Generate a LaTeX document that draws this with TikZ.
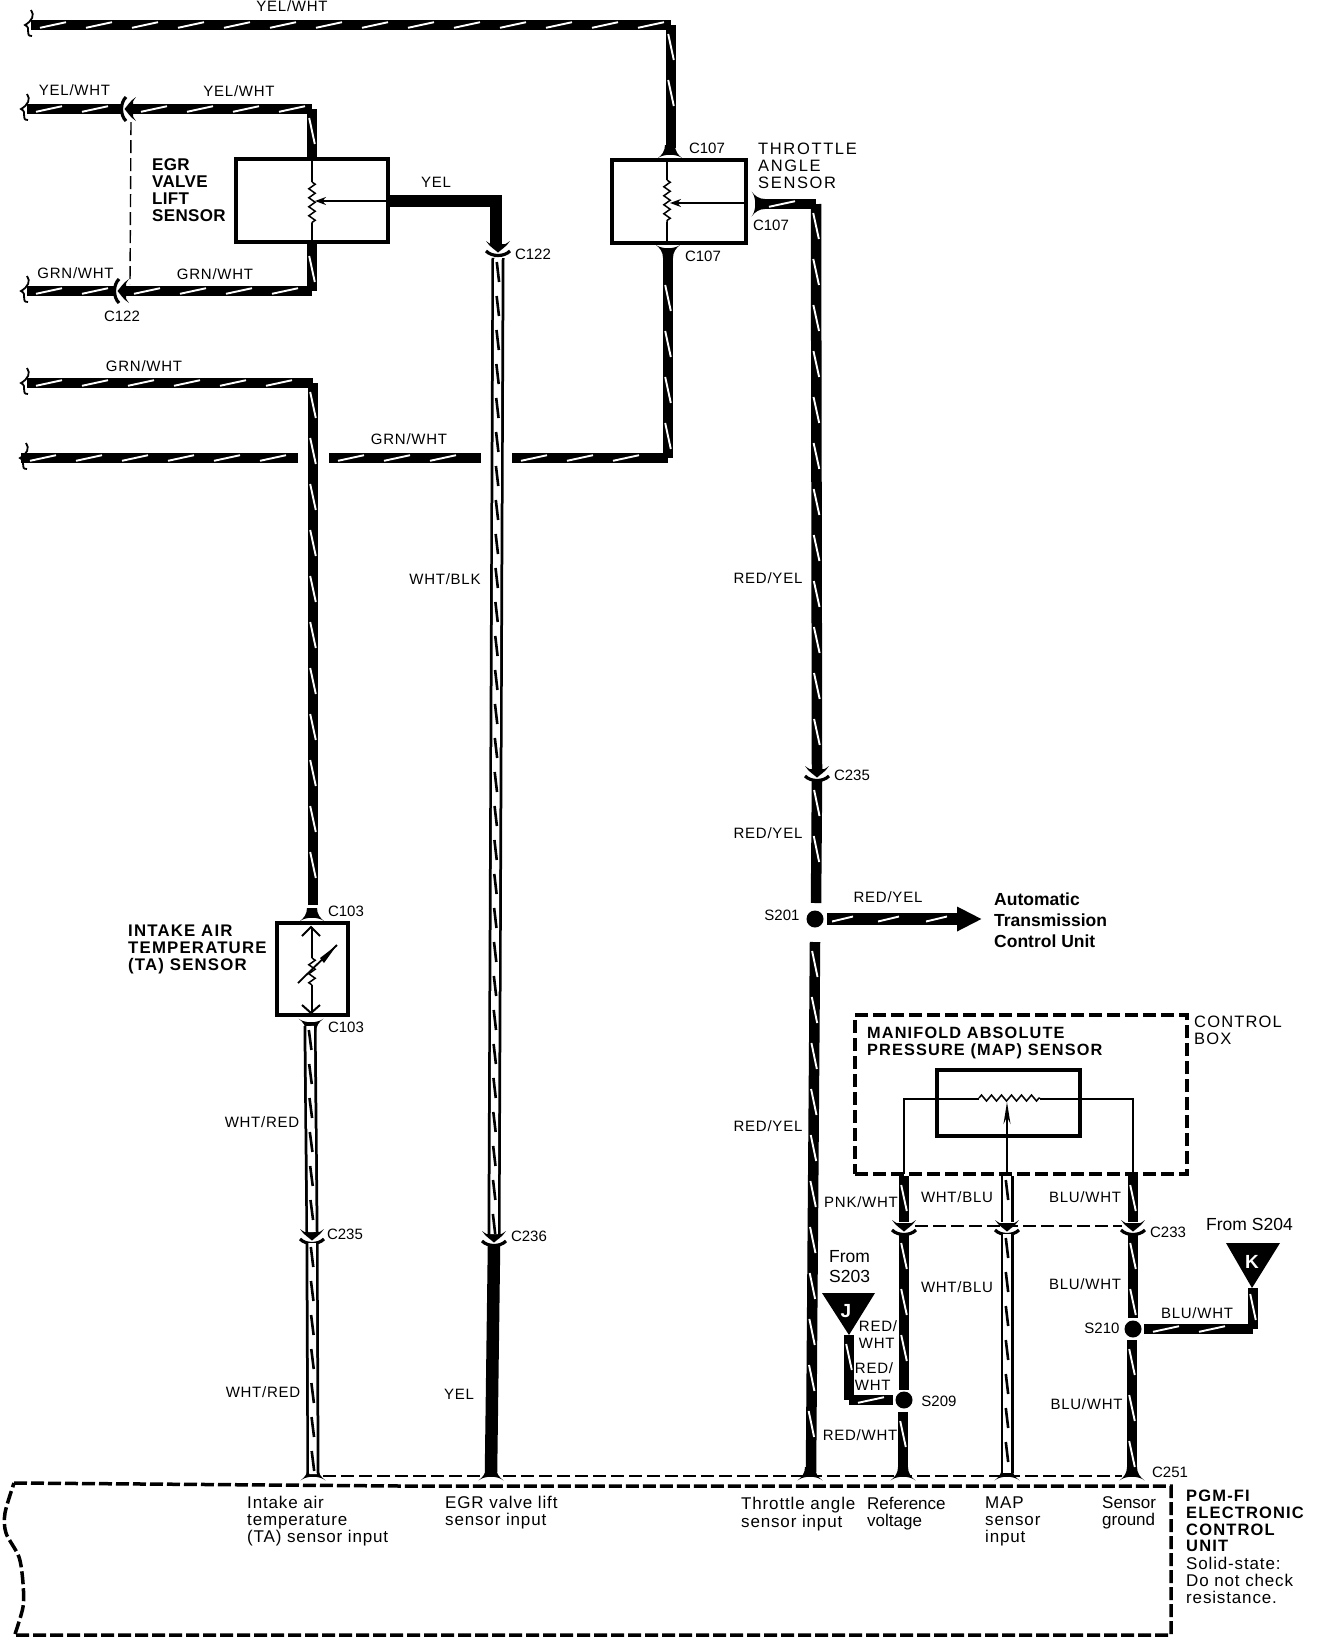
\documentclass[tikz,border=0pt]{standalone}
\usepackage{fontspec}
\setmainfont{Liberation Sans}
\newfontfamily\lblf[LetterSpace=5]{Liberation Sans}
\newfontfamily\ttlf[LetterSpace=7]{Liberation Sans}
\newfontfamily\thrf[LetterSpace=10]{Liberation Sans}
\newfontfamily\egrf[LetterSpace=2]{Liberation Sans}
\newfontfamily\lowf[LetterSpace=5]{Liberation Sans}
\usetikzlibrary{arrows.meta,decorations.markings,decorations.pathmorphing,calc}
\tikzset{
  lbl/.style={inner sep=0pt,font=\fontsize{15}{15}\selectfont\lblf},
  cn/.style={inner sep=0pt,font=\fontsize{15}{15}\selectfont},
  ttl/.style={inner sep=0pt,align=left,anchor=west,font=\fontsize{16.5}{16.7}\selectfont\ttlf\bfseries},
  low/.style={inner sep=0pt,align=left,anchor=west,font=\fontsize{17}{17.3}\selectfont\lowf},
  hbody/.style={line width=10.5pt,draw=black,line cap=square},
  wire/.style={hbody,postaction={decorate,decoration={markings,
     mark=between positions 22pt and -12pt step 46pt with {\draw[white,line cap=butt,line width=1.9pt] (-13pt,-2.8pt)--(13pt,2.8pt);}}}},
  dwire/.style={line width=13pt,draw=black,postaction={draw=white,line width=7.5pt},
     postaction={decorate,decoration={markings,
     mark=between positions 14pt and -10pt step 34pt with {\draw[black,line width=2.6pt] (-10pt,-1.2pt)--(10pt,1.2pt);}}}},
  solidw/.style={line width=12.5pt,draw=black},
  sensorbox/.style={draw,line width=3.2pt,inner sep=0pt,fill=white},
  dashbox/.style={draw,line width=3.5pt,dash pattern=on 13pt off 5pt,inner sep=0pt},
  thinw/.style={draw,line width=1.6pt},
  thindash/.style={draw,line width=1.4pt,dash pattern=on 13pt off 5pt},
  zig/.style={draw,line width=1.5pt,decorate,decoration={zigzag,segment length=9pt,amplitude=3.2pt}},
  dot/.style={circle,fill=black,inner sep=0pt,minimum size=17pt},
}
\newcommand\wend[2]{\begin{scope}[shift={(#1,#2)}]
  \draw[line width=1.8pt] (6,-15) .. controls (10,-10) and (7,-4) .. (0,0) .. controls (7,3) and (-1,11) .. (7,11);
\end{scope}}
\newcommand\conn[3][0]{\begin{scope}[shift={(#2,#3)},rotate=#1]
  \fill (-12,-9) .. controls (-8,-6) and (-6,-5) .. (-5.5,-6) -- (5.5,-6) .. controls (6,-5) and (8,-6) .. (12,-9) .. controls (8,-3) and (4,-1) .. (0,2.5) .. controls (-4,-1) and (-8,-3) .. (-12,-9) -- cycle;
  \draw[line width=3.2pt] (-12,1) .. controls (-6,7) and (6,7) .. (12,1);
\end{scope}}
\newcommand\flare[3][0]{\begin{scope}[shift={(#2,#3)},rotate=#1]
  \fill (-12.5,2.5) .. controls (-8,-1) and (-5,-5) .. (-5,-11) -- (5,-11) .. controls (5,-5) and (8,-1) .. (12.5,2.5) .. controls (7,-2.5) and (-7,-2.5) .. (-12.5,2.5) -- cycle;
\end{scope}}
\begin{document}
\begin{tikzpicture}[x=1pt,y=-1pt]
\useasboundingbox (0,0) rectangle (1328,1642);
\fill[white] (0,0) rectangle (1328,1642);

% ---------- coordinates
\coordinate (t1) at (31,25); \coordinate (t2) at (671,25); \coordinate (t3) at (671,148);
\coordinate (y1) at (27,109); \coordinate (y2) at (122,109); \coordinate (y3) at (132,109); \coordinate (y4) at (312,109); \coordinate (y5) at (312,159);
\coordinate (g1) at (27,291); \coordinate (g2) at (115,291); \coordinate (g3) at (125,291); \coordinate (g4) at (312,291); \coordinate (g5) at (312,242);
\coordinate (a1) at (27,383); \coordinate (a2) at (313,383); \coordinate (a3) at (313,905);
\coordinate (b1) at (21,458); \coordinate (b2) at (298,458); \coordinate (b3) at (329,458); \coordinate (b4) at (481,458); \coordinate (b5) at (512,458); \coordinate (b6) at (668,458); \coordinate (b7) at (668,252);
\coordinate (ye2) at (496,201); \coordinate (ye3) at (496,246);
\coordinate (w1) at (498,258); \coordinate (w2) at (494,1234); \coordinate (w3) at (494,1246); \coordinate (w4) at (491,1472);
\coordinate (r1) at (760,204); \coordinate (r2) at (816,204); \coordinate (r3) at (817,769); \coordinate (r4) at (817,781); \coordinate (r5) at (816,903); \coordinate (r6) at (815,942); \coordinate (r7) at (811,1472);
\coordinate (ah) at (982,919);
\coordinate (ta1) at (310,1026); \coordinate (ta2) at (312,1232); \coordinate (ta3) at (312,1243); \coordinate (ta4) at (313,1474);

% ---------- connector glyphs
\conn[-90]{127}{109}
\conn[-90]{120}{291}
\conn{498}{250}
\conn{494}{1240}
\conn{817}{775}
\conn{312}{1238}
\conn{904}{1229}
\conn{1007}{1229}
\conn{1133}{1229}
\flare{670}{156}
\flare[180]{668}{247}
\flare[-90]{754}{204}
\flare{312}{919}
\flare[180]{311}{1021}
\flare{313}{1478}
\flare{491}{1478}
\flare{810}{1478}
\flare{903}{1478}
\flare{1007}{1478}
\flare{1132}{1478}

% ---------- wire ends
\wend{25}{25}\wend{21}{109}\wend{21}{291}\wend{21}{383}\wend{20}{458}

% ---------- dashed links
\draw[thindash] (131,122) -- (130,284);
\draw[thindash] (915,1226) -- (1122,1226);
\draw[thindash] (323,1476) -- (1122,1476);

% ---------- sensors
\node[sensorbox,minimum width=152pt,minimum height=83pt] (egr) at (312,200.5) {};
\node[sensorbox,minimum width=134pt,minimum height=83pt] (tps) at (679,201.5) {};
\node[sensorbox,line width=3.6pt,minimum width=71pt,minimum height=92pt] (ta) at (312.5,969) {};
\node[sensorbox,line width=3.6pt,minimum width=143pt,minimum height=66pt] (map) at (1008.5,1103) {};
\node[dashbox,minimum width=332pt,minimum height=159pt] (ctl) at (1021,1094.5) {};

% ---------- wires
\draw[wire] (t1)--(t2); \draw[wire] (t2)--(t3);
\draw[wire] (y1)--(y2); \draw[wire,line cap=butt] (y3)--(y4); \draw[wire] (y4)--(y5);
\draw[wire] (g1)--(g2); \draw[wire,line cap=butt] (g3)--(g4); \draw[wire] (g4)--(g5);
\draw[wire] (a1)--(a2); \draw[wire] (a2)--(a3);
\draw[wire,line cap=butt] (b1)--(b2); \draw[wire,line cap=butt] (b3)--(b4); \draw[wire,line cap=butt] (b5)--(b6); \draw[wire] (b6)--(b7);
\draw[solidw,line cap=square] (egr.east |- ye2) -- (ye2); \draw[solidw] ($(ye2)+(0,-6)$) -- (ye3);
\draw[dwire] (w1)--(w2);
\draw[solidw] (w3)--(w4);
\draw[wire] (r1)--(r2); \draw[wire] (r2)--(r3);
\draw[wire,line cap=butt] (r4)--(r5); \draw[wire,line cap=butt] (r6)--(r7);
\draw[dwire] (ta1)--(ta2); \draw[dwire] (ta3)--(ta4);

% ---------- splices and junction wires
\node[dot] (s201) at (815,919) {};
\draw[line width=12pt,draw=black,-{Triangle[length=25pt,width=23pt]}] (827,919)--(ah);
\draw[white,line width=1.9pt] (832,921.5)--(853,916.5); \draw[white,line width=1.9pt] (878,921.5)--(899,916.5); \draw[white,line width=1.9pt] (926,921.5)--(947,916.5);

% ---------- internals of sensors
\draw[thinw] (egr.north -| y5)--(312,182); \draw[thinw] (312,223)--(egr.south -| y5);
\draw[zig] (312,182)--(312,223);
\draw[thinw,-{Stealth[length=11pt,width=8pt]}] (egr.east |- 0,201)--(315,201);
\draw[thinw] (667,160)--(667,180); \draw[thinw] (667,222)--(667,243);
\draw[zig] (667,180)--(667,222);
\draw[thinw,-{Stealth[length=11pt,width=8pt]}] (tps.east |- 0,203)--(670,203);
% TA sensor
\draw[thinw] (312,927)--(312,958); \draw[thinw] (312,985)--(312,1012);
\draw[zig] (312,958)--(312,985);
\draw[line width=2pt] (302,936)--(311,927)--(320,936);
\draw[line width=2pt] (302,1005)--(311,1013)--(320,1005);
\draw[line width=1.8pt] (298,983)--(337,945);
\fill (337,945)--(320,958)--(324,963)--cycle;
% MAP sensor
\draw[thinw] (904,1174)--(904,1099)--(979,1099);
\draw[thinw] (1040,1099)--(1133,1099)--(1133,1174);
\draw[zig,decoration={zigzag,segment length=10pt,amplitude=3pt}] (979,1098)--(1040,1098);
\draw[thinw,-{Stealth[length=22pt,width=7pt]}] (1007,1174)--(1007,1102);

% ---------- MAP wires
\draw[wire,line cap=butt] (904,1176)--(904,1222);
\draw[wire,line cap=butt] (904,1234)--(904,1390);
\draw[wire,line cap=butt] (903,1412)--(903,1472);
\draw[dwire] (1007,1176)--(1007,1222);
\draw[dwire] (1007,1234)--(1007,1473);
\draw[wire,line cap=butt] (1133,1176)--(1133,1222);
\draw[wire,line cap=butt] (1133,1234)--(1133,1318);
\draw[wire,line cap=butt] (1132,1340)--(1132,1472);
\node[dot] (s209) at (904,1400) {};
\node[dot] (s210) at (1133,1329) {};
% J and K
\fill (822,1293)--(875,1293)--(849,1335)--cycle;
\node[text=white,inner sep=0pt,font=\fontsize{19}{19}\selectfont\bfseries] (J) at (846,1311) {J};
\fill (1226,1243)--(1280,1243)--(1252,1288)--cycle;
\node[text=white,inner sep=0pt,font=\fontsize{19}{19}\selectfont\bfseries] (K) at (1252,1262) {K};
\coordinate (j1) at (849,1335); \coordinate (j2) at (849,1400); \coordinate (j3) at (893,1400);
\draw[wire] (j1)--(j2); \draw[wire,line cap=butt] (j2)--(j3);
\coordinate (k0) at (1144,1329); \coordinate (k1) at (1253,1329); \coordinate (k2) at (1253,1288);
\draw[wire,line cap=butt] (k0)--(k1); \draw[wire] (k1)--(k2);

% ---------- ECU outline
\draw[line width=3.5pt,dash pattern=on 13pt off 4pt,line cap=butt] plot[smooth] coordinates {(15,1634) (23,1607) (23,1583) (19,1557) (6,1533) (5,1513) (14,1483)};
\draw[line width=3.5pt,dash pattern=on 13pt off 4pt] (14,1483)--(400,1486)--(1171,1486)--(1171,1635)--(15,1635);

% ---------- wire labels
\node[lbl] (l1) at (292,6) {YEL/WHT};
\node[lbl] (l2) at (74.5,90) {YEL/WHT};
\node[lbl] (l3) at (239,91) {YEL/WHT};
\node[lbl] (l4) at (75.5,273) {GRN/WHT};
\node[lbl] (l5) at (215,274) {GRN/WHT};
\node[lbl] (l6) at (144,366) {GRN/WHT};
\node[lbl] (l7) at (409,439) {GRN/WHT};
\node[lbl] (l8) at (436,182) {YEL};
\node[lbl] (l9) at (445,579) {WHT/BLK};
\node[lbl] (l10) at (459,1394) {YEL};
\node[lbl] (l11) at (768,578) {RED/YEL};
\node[lbl] (l12) at (768,833) {RED/YEL};
\node[lbl] (l13) at (768,1126) {RED/YEL};
\node[lbl] (l14) at (888,897) {RED/YEL};
\node[lbl] (l15) at (262,1122) {WHT/RED};
\node[lbl] (l16) at (263,1392) {WHT/RED};
\node[lbl] (l17) at (861,1202) {PNK/WHT};
\node[lbl] (l18) at (957,1197) {WHT/BLU};
\node[lbl] (l19) at (957,1287) {WHT/BLU};
\node[lbl] (l20) at (1085,1197) {BLU/WHT};
\node[lbl] (l21) at (1085,1284) {BLU/WHT};
\node[lbl] (l22) at (1086.5,1404) {BLU/WHT};
\node[lbl] (l23) at (1197,1313) {BLU/WHT};
\node[lbl] (l24) at (860,1435) {RED/WHT};
\node[lbl,align=left,font=\fontsize{15}{17}\selectfont\lblf] (l25) at (878,1334.5) {RED/\\WHT};
\node[lbl,align=left,font=\fontsize{15}{17}\selectfont\lblf] (l26) at (874,1376.5) {RED/\\WHT};

% ---------- connector labels
\node[cn] (c1) at (533,254) {C122};
\node[cn] (c2) at (122,316) {C122};
\node[cn] (c3) at (707,148) {C107};
\node[cn] (c4) at (771,225) {C107};
\node[cn] (c5) at (703,256) {C107};
\node[cn] (c6) at (852,775) {C235};
\node[cn] (c7) at (346,911) {C103};
\node[cn] (c8) at (346,1027) {C103};
\node[cn] (c9) at (345,1234) {C235};
\node[cn] (c10) at (529,1236) {C236};
\node[cn] (c11) at (1168,1232) {C233};
\node[cn] (c12) at (1170,1472) {C251};
\node[cn] (s1) at (782,915) {S201};
\node[cn] (s2) at (939,1401) {S209};
\node[cn] (s3) at (1102,1328) {S210};

% ---------- titles
\node[ttl,font=\fontsize{17}{17}\selectfont\egrf\bfseries] (tegr) at (152,190.5) {EGR\\VALVE\\LIFT\\SENSOR};
\node[ttl,font=\fontsize{16.5}{16.7}\selectfont\thrf] (tthr) at (758,166) {THROTTLE\\ANGLE\\SENSOR};
\node[ttl,font=\fontsize{16.8}{17}\selectfont\ttlf\bfseries] (tta) at (128,949.5) {INTAKE AIR\\TEMPERATURE\\(TA) SENSOR};
\node[ttl,font=\fontsize{16.3}{16.7}\selectfont\ttlf\bfseries] (tmap) at (867,1043) {MANIFOLD ABSOLUTE\\PRESSURE (MAP) SENSOR};
\node[ttl,font=\fontsize{16.5}{16.7}\selectfont\ttlf] (tctl) at (1194,1030) {CONTROL\\BOX};
\node[ttl] (tecu) at (1186,1521) {PGM-FI\\ELECTRONIC\\CONTROL\\UNIT};
\node[low] (tss) at (1186,1580.5) {Solid-state:\\Do not check\\resistance.};
\node[low,font=\fontsize{17.5}{21}\selectfont\bfseries] (tatc) at (994,920) {Automatic\\Transmission\\Control Unit};
\node[low,font=\fontsize{17.5}{20}\selectfont] (f204) at (1206,1224) {From S204};
\node[low,font=\fontsize{17.5}{20}\selectfont] (f203) at (829,1267) {From\\S203};
\node[low] (i1) at (247,1521) {Intake air\\temperature\\(TA) sensor input};
\node[low] (i2) at (445,1512.5) {EGR valve lift\\sensor input};
\node[low] (i3) at (741,1514) {Throttle angle\\sensor input};
\node[low,font=\fontsize{17}{17.3}\selectfont] (i4) at (867,1513.5) {Reference\\voltage};
\node[low] (i5) at (985,1521.5) {MAP\\sensor\\input};
\node[low,font=\fontsize{17}{17.3}\selectfont] (i6) at (1102,1512.5) {Sensor\\ground};
\end{tikzpicture}
\end{document}
